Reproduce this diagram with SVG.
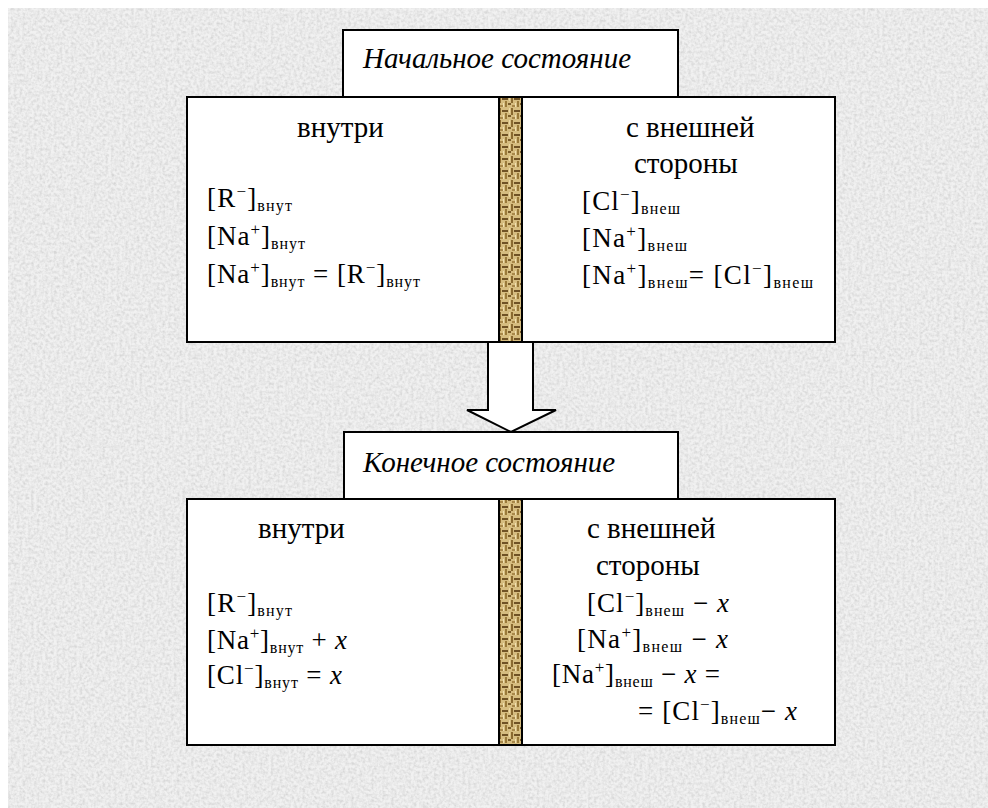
<svg xmlns="http://www.w3.org/2000/svg" width="988" height="808" viewBox="0 0 988 808">
<style>
.t{font-family:"Liberation Serif","DejaVu Serif",serif;font-size:27px;fill:#000}
.h{font-size:29px}
.ti{font-style:italic;font-size:29px}
.s{font-size:16px}
.p{font-size:17px}
.i{font-style:italic}
.box{fill:#fff;stroke:#000;stroke-width:2}
.mem{fill:url(#weave);stroke:#000;stroke-width:2}
</style>
<defs>
<filter id="noise" x="0" y="0" width="100%" height="100%">
<feTurbulence type="fractalNoise" baseFrequency="0.35" numOctaves="2" seed="3" result="n"/>
<feColorMatrix type="matrix" values="0 0 0 0 0  0 0 0 0 0  0 0 0 0 0  0.9 0.3 0 0 -0.45" in="n" result="a"/>
<feFlood flood-color="#b8b8b8" result="c"/>
<feComposite in="c" in2="a" operator="in" result="d"/>
<feFlood flood-color="#f1f1f1" result="bg"/>
<feMerge><feMergeNode in="bg"/><feMergeNode in="d"/></feMerge>
</filter>
<pattern id="weave" width="12" height="12" patternUnits="userSpaceOnUse" x="499" y="0">
<rect width="12" height="12" fill="#d6bd80"/>
<rect x="0" y="0" width="2" height="7" fill="#8a6a30"/>
<rect x="3" y="2" width="6" height="2" fill="#6f5225"/>
<rect x="6" y="5" width="2" height="6" fill="#9a7a3a"/>
<rect x="9" y="7" width="3" height="2" fill="#7a5c2a"/>
<rect x="1" y="9" width="4" height="2" fill="#a8884a"/>
<rect x="10" y="0" width="1" height="5" fill="#ecd9a5"/>
<rect x="4" y="7" width="1" height="4" fill="#f0e0b0"/>
</pattern>
</defs>
<rect x="0" y="0" width="988" height="808" fill="#fff"/>
<rect x="8" y="8" width="980" height="800" filter="url(#noise)"/>

<g id="start-title">
<rect class="box" x="343" y="30" width="335" height="67"/>
<text class="t ti" x="363" y="68">Начальное состояние</text>
</g>

<g id="start-inside">
<rect class="box" x="187" y="97" width="312" height="245"/>
<text class="t h" x="297" y="137">внутри</text>
<text class="t" x="207" y="207" textLength="85" lengthAdjust="spacing">[R<tspan class="p" dy="-10">−</tspan><tspan dy="10">]</tspan><tspan class="s" dy="4">внут</tspan></text>
<text class="t" x="207" y="245" textLength="98" lengthAdjust="spacing">[Na<tspan class="p" dy="-10">+</tspan><tspan dy="10">]</tspan><tspan class="s" dy="4">внут</tspan></text>
<text class="t" x="207" y="283" textLength="213" lengthAdjust="spacing">[Na<tspan class="p" dy="-10">+</tspan><tspan dy="10">]</tspan><tspan class="s" dy="4">внут</tspan><tspan dy="-4"> = [R</tspan><tspan class="p" dy="-10">−</tspan><tspan dy="10">]</tspan><tspan class="s" dy="4">внут</tspan></text>
</g>

<g id="start-membrane">
<rect class="mem" x="499" y="97" width="23" height="245"/>
</g>

<g id="start-outside">
<rect class="box" x="522" y="97" width="313" height="245"/>
<text class="t h" x="626" y="137">с внешней</text>
<text class="t h" x="634" y="173">стороны</text>
<text class="t" x="582" y="210" textLength="98" lengthAdjust="spacing">[Cl<tspan class="p" dy="-10">−</tspan><tspan dy="10">]</tspan><tspan class="s" dy="4">внеш</tspan></text>
<text class="t" x="582" y="247" textLength="105" lengthAdjust="spacing">[Na<tspan class="p" dy="-10">+</tspan><tspan dy="10">]</tspan><tspan class="s" dy="4">внеш</tspan></text>
<text class="t" x="582" y="284" textLength="231" lengthAdjust="spacing">[Na<tspan class="p" dy="-10">+</tspan><tspan dy="10">]</tspan><tspan class="s" dy="4">внеш</tspan><tspan dy="-4">= [Cl</tspan><tspan class="p" dy="-10">−</tspan><tspan dy="10">]</tspan><tspan class="s" dy="4">внеш</tspan></text>
</g>

<g id="connectors">
<polygon points="488,343 488,410 467,410 511,432 556,410 533,410 533,343" fill="#fff" stroke="none"/>
<polyline points="488,343 488,410 467,410 511,432 556,410 533,410 533,343" fill="none" stroke="#000" stroke-width="2"/>
</g>

<g id="end-title">
<rect class="box" x="344" y="432" width="334" height="67"/>
<text class="t ti" x="363" y="472">Конечное состояние</text>
</g>

<g id="end-inside">
<rect class="box" x="187" y="499" width="312" height="246"/>
<text class="t h" x="258" y="538">внутри</text>
<text class="t" x="207" y="612" textLength="85" lengthAdjust="spacing">[R<tspan class="p" dy="-10">−</tspan><tspan dy="10">]</tspan><tspan class="s" dy="4">внут</tspan></text>
<text class="t" x="207" y="649" textLength="140" lengthAdjust="spacing">[Na<tspan class="p" dy="-10">+</tspan><tspan dy="10">]</tspan><tspan class="s" dy="4">внут</tspan><tspan dy="-4"> + </tspan><tspan class="i">x</tspan></text>
<text class="t" x="207" y="684" textLength="135" lengthAdjust="spacing">[Cl<tspan class="p" dy="-10">−</tspan><tspan dy="10">]</tspan><tspan class="s" dy="4">внут</tspan><tspan dy="-4"> = </tspan><tspan class="i">x</tspan></text>
</g>

<g id="end-membrane">
<rect class="mem" x="499" y="499" width="23" height="246"/>
</g>

<g id="end-outside">
<rect class="box" x="522" y="499" width="313" height="246"/>
<text class="t h" x="587" y="538">с внешней</text>
<text class="t h" x="596" y="575">стороны</text>
<text class="t" x="587" y="612" textLength="142" lengthAdjust="spacing">[Cl<tspan class="p" dy="-10">−</tspan><tspan dy="10">]</tspan><tspan class="s" dy="4">внеш</tspan><tspan dy="-4"> − </tspan><tspan class="i">x</tspan></text>
<text class="t" x="577" y="648" textLength="151" lengthAdjust="spacing">[Na<tspan class="p" dy="-10">+</tspan><tspan dy="10">]</tspan><tspan class="s" dy="4">внеш</tspan><tspan dy="-4"> − </tspan><tspan class="i">x</tspan></text>
<text class="t" x="552" y="683" textLength="168" lengthAdjust="spacing">[Na<tspan class="p" dy="-10">+</tspan><tspan dy="10">]</tspan><tspan class="s" dy="4">внеш</tspan><tspan dy="-4"> − </tspan><tspan class="i">x</tspan><tspan> =</tspan></text>
<text class="t" x="638" y="720" textLength="159" lengthAdjust="spacing">= [Cl<tspan class="p" dy="-10">−</tspan><tspan dy="10">]</tspan><tspan class="s" dy="4">внеш</tspan><tspan dy="-4">− </tspan><tspan class="i">x</tspan></text>
</g>
</svg>
